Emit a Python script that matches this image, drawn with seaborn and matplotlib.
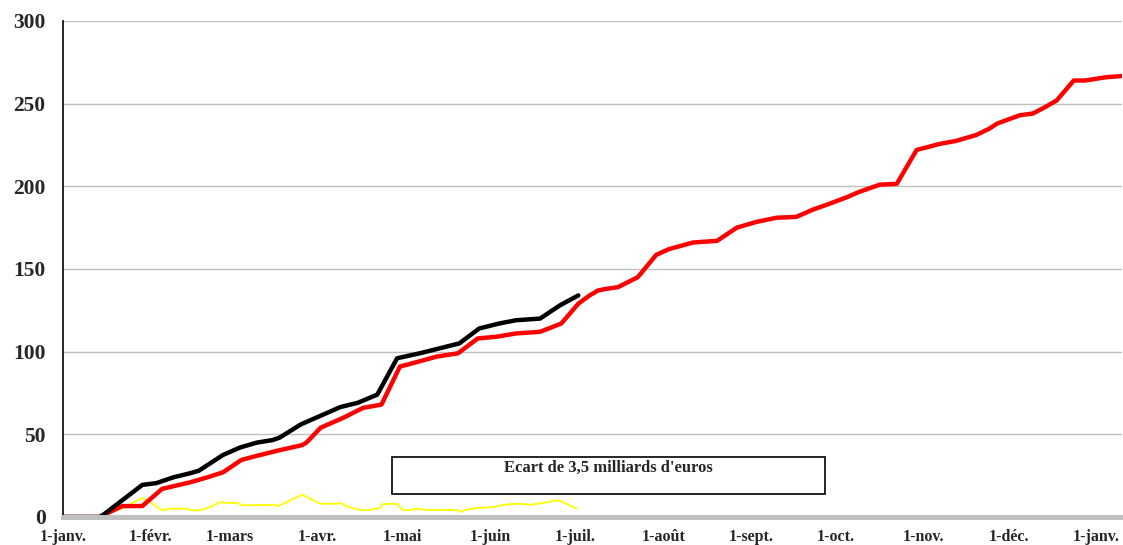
import numpy as np
import pandas as pd
import seaborn as sns
import matplotlib
matplotlib.use("Agg")
import matplotlib.pyplot as plt
from matplotlib.patches import Rectangle

# cumulative amounts, x = day of the year (0 = 1 Jan)
red_days = [0, 13, 14, 21, 28, 35, 45, 51, 56.5, 63, 68.5, 75.5, 84.5, 86, 91, 99, 106,
            112.5, 119, 123.5, 132, 139.5, 146.5, 153, 160, 168.5, 176, 182, 186, 189, 192,
            196, 203, 209.5, 214, 222.5, 226.5, 231, 238, 245, 252, 259, 265, 270, 277, 281,
            288.5, 294.5, 301.5, 306, 309.5, 315.5, 322.5, 327, 330, 338, 342.5, 347, 351,
            357, 361, 368.5, 374]
red_vals = [0, 0, 1, 6.6, 6.6, 17, 21, 24, 27, 34.5, 37, 40, 43.5, 45, 54, 60, 66,
            68, 91, 93, 97, 99, 108, 109, 111, 112, 117, 129, 134, 137, 138,
            139, 145, 158.5, 162, 166, 166.5, 167, 175, 178.5, 181, 181.5, 186, 189, 193.5, 196.5,
            201, 201.5, 222, 224, 225.6, 227.5, 231, 234.7, 238, 243, 244, 248, 252,
            264, 264, 266, 266.7]

black_days = [0, 13, 14, 28, 33, 39, 45, 48, 56.5, 62.5, 68.5, 74, 76.5, 84, 90, 98, 104,
              111, 118, 126, 133, 140, 147, 154, 160, 168.5, 175.5, 182]
black_vals = [0, 0, 1, 19.4, 20.5, 24, 26.5, 28, 37.5, 42, 45, 46.5, 48, 56, 60.5, 66.5, 69,
              74, 96, 99, 102, 105, 114, 117, 119, 120, 128, 134]

yellow_days = [0, 13, 16, 21, 28, 30, 35, 38, 44, 45.5, 48.5, 52, 55.5, 58.5, 61.5, 63.5, 74,
               76, 84.5, 91, 97, 98, 100, 105, 108, 112, 113, 118, 120, 123, 125, 128.5, 139.5,
               140.5, 142, 146, 152, 155.5, 159, 162.5, 165, 169.5, 174.5, 176, 181.5]
yellow_vals = [0, 0, 2, 5.4, 11.5, 10, 4, 5, 5, 4, 4, 6, 9, 8.5, 8.5, 7, 7.4,
               6.6, 13.5, 8, 8, 8.5, 6.6, 4.2, 4.2, 5.4, 7.9, 7.9, 4.2, 4.2, 5, 4.2, 4.2,
               3, 4.2, 5.4, 6, 7.3, 7.9, 7.9, 7.3, 8.5, 10, 9.5, 5]

month_days = [0, 31, 59, 90, 120, 151, 181, 212, 243, 273, 304, 334, 365]
month_labels = ["1-janv.", "1-févr.", "1-mars", "1-avr.", "1-mai", "1-juin", "1-juil.",
                "1-août", "1-sept.", "1-oct.", "1-nov.", "1-déc.", "1-janv."]
y_ticks = [0, 50, 100, 150, 200, 250, 300]
box_text = "Ecart de 3,5 milliards d'euros"

df = pd.concat([
    pd.DataFrame({"day": red_days, "value": red_vals, "serie": "red"}),
    pd.DataFrame({"day": black_days, "value": black_vals, "serie": "black"}),
])
df_gap = pd.DataFrame({"day": yellow_days, "value": yellow_vals})

sns.set_style("white")
plt.rcParams["font.family"] = ["Liberation Serif", "DejaVu Serif"]
plt.rcParams["font.weight"] = "bold"

fig = plt.figure(figsize=(11.23, 5.45), dpi=100)
ax = fig.add_axes([0.0561, 0.0514, 0.9429, 0.9101])

sns.lineplot(data=df_gap, x="day", y="value", color="#FFFF00", linewidth=1.3, ax=ax,
             estimator=None, sort=False)
sns.lineplot(data=df, x="day", y="value", hue="serie",
             palette={"red": "#FF0000", "black": "#000000"},
             linewidth=3.2, ax=ax, estimator=None, sort=False, legend=False)

ax.set_xlim(0, 374)
ax.set_ylim(0, 300)
ax.set_xlabel("")
ax.set_ylabel("")

ax.set_yticks(y_ticks)
ax.set_yticklabels([str(v) for v in y_ticks], fontsize=15.5, fontweight="bold")
ax.set_xticks(month_days)
ax.set_xticklabels(month_labels, fontsize=11.5, fontweight="bold")

ax.yaxis.grid(True, color="#c0c0c0", linewidth=1)
ax.xaxis.grid(False)
ax.set_axisbelow(True)

for s in ["top", "right"]:
    ax.spines[s].set_visible(False)
ax.spines["left"].set_color("black")
ax.spines["left"].set_linewidth(1.2)
ax.spines["bottom"].set_color("#c0c0c0")
ax.spines["bottom"].set_linewidth(3.6)
ax.spines["bottom"].set_zorder(3)

ax.tick_params(axis="y", direction="inout", length=9, width=1.2, color="black", pad=8)
ax.tick_params(axis="x", direction="out", length=4, width=1.5, color="#c0c0c0", pad=5)

ax.add_patch(Rectangle((0.3107, 0.0464), 0.409, 0.0746, transform=ax.transAxes,
                       facecolor="white", edgecolor="black", linewidth=1.2, zorder=4))
ax.text(0.5146, 0.0988, box_text, transform=ax.transAxes, ha="center", va="center",
        fontsize=12, fontweight="bold", zorder=5)

fig.savefig("out.png", dpi=100)
